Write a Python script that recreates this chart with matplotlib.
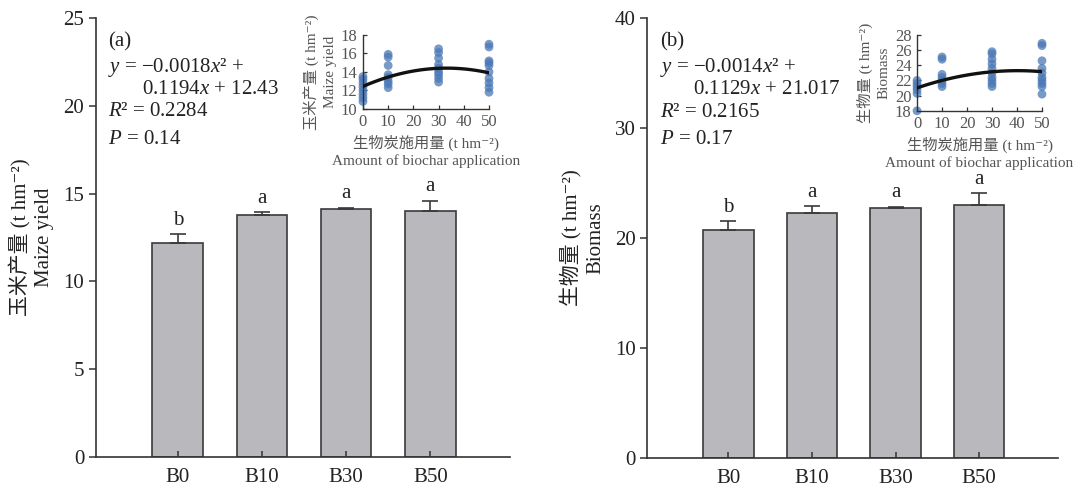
import matplotlib
matplotlib.use("Agg")
import matplotlib.pyplot as plt
import numpy as np

plt.rcParams['font.family'] = ['Liberation Serif', 'Noto Sans CJK SC', 'DejaVu Sans']
plt.rcParams['mathtext.fontset'] = 'custom'
plt.rcParams['mathtext.rm'] = 'Liberation Serif'
plt.rcParams['mathtext.it'] = 'Liberation Serif:italic'

# bar data
treatments = ['B0', 'B10', 'B30', 'B50']
yield_mean = [12.2, 13.8, 14.1, 14.0]
yield_err = [0.5, 0.15, 0.1, 0.6]
yield_sig = ['b', 'a', 'a', 'a']
biomass_mean = [20.7, 22.3, 22.75, 23.0]
biomass_err = [0.85, 0.6, 0.1, 1.05]
biomass_sig = ['b', 'a', 'a', 'a']

# inset scatter data (biochar rate, t/hm2)
yield_x = [0]*8 + [10]*8 + [30]*9 + [50]*10
yield_pts = [10.8, 11.2, 11.6, 12.0, 12.4, 12.8, 13.2, 13.5,
             12.3, 12.7, 13.0, 13.4, 13.7, 14.7, 15.6, 15.9,
             12.9, 13.3, 13.7, 14.0, 14.4, 14.8, 15.5, 16.1, 16.5,
             11.8, 12.3, 12.8, 13.3, 14.0, 14.7, 15.0, 15.2, 16.7, 17.0]
biomass_x = [0]*6 + [10]*7 + [30]*10 + [50]*10
biomass_pts = [18.0, 20.3, 20.8, 21.2, 21.6, 22.0,
               21.2, 21.6, 22.0, 22.4, 22.8, 24.8, 25.1,
               21.2, 21.6, 22.0, 22.4, 23.0, 23.6, 24.2, 24.8, 25.5, 25.8,
               20.2, 21.2, 21.6, 22.0, 22.4, 23.0, 23.6, 24.6, 26.6, 26.9]
# fitted quadratic coefficients as printed on the chart
yield_fit = [-0.0018, 0.1194, 12.43]
biomass_fit = [-0.0014, 0.1129, 21.017]

dark = '#222222'
gray = '#555555'


def bar_panel(ax, means, errs, sig, ymax, yticks, ylabel):
    x = np.arange(len(treatments))
    ax.bar(x, means, width=0.6, color='#b9b9bd', edgecolor='#3a3a3a', linewidth=1.2,
           yerr=[np.zeros(len(errs)), errs], capsize=6,
           error_kw=dict(ecolor='#3a3a3a', elinewidth=1.2, capthick=1.2))
    for xi, m, e, s in zip(x, means, errs, sig):
        ax.annotate(s, (xi, m + e), xytext=(0, 3), textcoords='offset points',
                    ha='center', va='bottom', fontsize=15, color=dark)
    ax.set_xlim(-0.97, 3.95)
    ax.set_ylim(0, ymax)
    ax.set_yticks(yticks)
    ax.set_xticks(x)
    ax.set_xticklabels(treatments)
    for sp in ['top', 'right']:
        ax.spines[sp].set_visible(False)
    for sp in ['left', 'bottom']:
        ax.spines[sp].set_color('#333333')
        ax.spines[sp].set_linewidth(1.2)
    ax.tick_params(axis='y', direction='out', length=5, width=1.1, labelsize=15,
                   colors='#333333', labelcolor=dark)
    ax.tick_params(axis='x', direction='in', length=4, width=1.1, labelsize=15,
                   colors='#333333', labelcolor=dark, pad=8)
    ax.set_ylabel(ylabel, fontsize=15, color=dark, labelpad=7, linespacing=1.25)


def inset_panel(ax, xs, ys, fit, ylim, yticks, ylabel):
    ax.scatter(xs, ys, s=40, color='#4a78b5', alpha=0.75, edgecolors='none',
               clip_on=False, zorder=2)
    xx = np.linspace(0, 50, 100)
    ax.plot(xx, np.polyval(fit, xx), color='#111111', linewidth=2.4, zorder=3)
    ax.set_xlim(0, 50)
    ax.set_ylim(*ylim)
    ax.set_xticks([0, 10, 20, 30, 40, 50])
    ax.set_yticks(yticks)
    ax.patch.set_alpha(0)
    for sp in ['top', 'right']:
        ax.spines[sp].set_visible(False)
    for sp in ['left', 'bottom']:
        ax.spines[sp].set_color('#333333')
        ax.spines[sp].set_linewidth(1.0)
    ax.tick_params(direction='in', length=3, width=0.9, labelsize=12,
                   colors='#333333', labelcolor=gray, pad=4)
    ax.set_ylabel(ylabel, fontsize=11, color=gray, labelpad=3, linespacing=1.45)
    ax.set_xlabel('生物炭施用量 (t hm⁻²)\nAmount of biochar application',
                  fontsize=11, color=gray, labelpad=3, linespacing=1.3)


fig = plt.figure(figsize=(10.79, 4.86), dpi=100)
ax1 = fig.add_axes([0.089, 0.060, 0.384, 0.903])
ax2 = fig.add_axes([0.600, 0.058, 0.381, 0.905])

bar_panel(ax1, yield_mean, yield_err, yield_sig, 25, [0, 5, 10, 15, 20, 25],
          '玉米产量 (t hm⁻²)\nMaize yield')
bar_panel(ax2, biomass_mean, biomass_err, biomass_sig, 40, [0, 10, 20, 30, 40],
          '生物量 (t hm⁻²)\nBiomass')

for ax, tag, l1, l2, r2, p in [
        (ax1, '(a)', '$y$ = −0.0018$x$² +', '0.1194$x$ + 12.43', '$R$² = 0.2284', '$P$ = 0.14'),
        (ax2, '(b)', '$y$ = −0.0014$x$² +', '0.1129$x$ + 21.017', '$R$² = 0.2165', '$P$ = 0.17')]:
    ax.text(0.03, 0.946, tag, transform=ax.transAxes, fontsize=15, color=dark, va='center')
    ax.text(0.03, 0.887, l1, transform=ax.transAxes, fontsize=15, color=dark, va='center')
    ax.text(0.11, 0.837, l2, transform=ax.transAxes, fontsize=15, color=dark, va='center')
    ax.text(0.03, 0.786, r2, transform=ax.transAxes, fontsize=15, color=dark, va='center')
    ax.text(0.03, 0.724, p, transform=ax.transAxes, fontsize=15, color=dark, va='center')

in1 = fig.add_axes([0.3364, 0.776, 0.1168, 0.152])
in2 = fig.add_axes([0.8499, 0.772, 0.1158, 0.156])
inset_panel(in1, yield_x, yield_pts, yield_fit, (10, 18), [10, 12, 14, 16, 18],
            '玉米产量 (t hm⁻²)\nMaize yield')
inset_panel(in2, biomass_x, biomass_pts, biomass_fit, (18, 28), [18, 20, 22, 24, 26, 28],
            '生物量 (t hm⁻²)\nBiomass')

fig.savefig('out.png', dpi=100)
